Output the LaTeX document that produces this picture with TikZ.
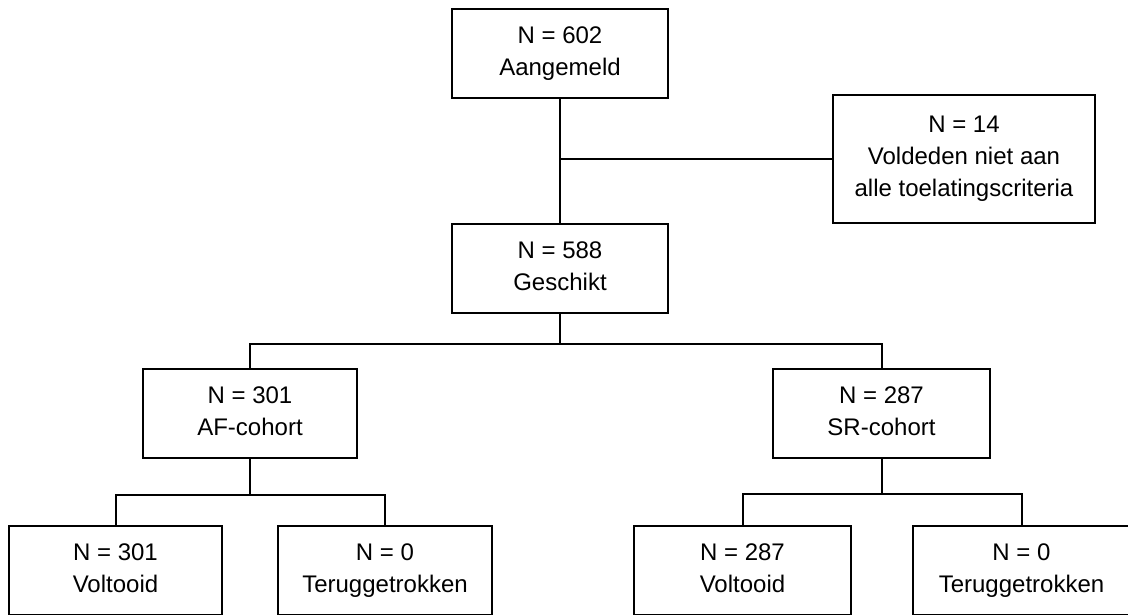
\documentclass[tikz,border=0pt]{standalone}
\usepackage{fontspec}
\setmainfont{Liberation Sans}
\newcommand\lnstrut{\rule[-6pt]{0pt}{23pt}}
\begin{document}
\begin{tikzpicture}[x=1pt,y=-1pt,
  box/.style={draw, line width=2pt, inner sep=0pt, align=center,
    minimum width=216pt, minimum height=89pt,
    font=\fontsize{24}{32}\selectfont},
  conn/.style={line width=2pt}]
\useasboundingbox (0,0) rectangle (1128,614);
\clip (0,0) rectangle (1128,614);
% nodes
\node[box] (a) at (560,53.5) {\lnstrut N = 602\\\lnstrut Aangemeld};
\node[box, minimum width=262pt, minimum height=128pt] (r) at (964,159) {\lnstrut N = 14\\\lnstrut Voldeden niet aan\\\lnstrut alle toelatingscriteria};
\node[box] (b) at (560,268.5) {\lnstrut N = 588\\\lnstrut Geschikt};
\node[box, minimum width=214pt] (af) at (250,413.5) {\lnstrut N = 301\\\lnstrut AF-cohort};
\node[box, minimum width=217pt] (sr) at (881.5,413.5) {\lnstrut N = 287\\\lnstrut SR-cohort};
\node[box, minimum width=213pt] (c1) at (115.5,570.5) {\lnstrut N = 301\\\lnstrut Voltooid};
\node[box, minimum width=214pt] (c2) at (385,570.5) {\lnstrut N = 0\\\lnstrut Teruggetrokken};
\node[box, minimum width=217pt] (c3) at (742.5,570.5) {\lnstrut N = 287\\\lnstrut Voltooid};
\node[box, minimum width=217pt] (c4) at (1021.5,570.5) {\lnstrut N = 0\\\lnstrut Teruggetrokken};
% junctions
\coordinate (j2) at (560,344);
\coordinate (j3) at (250,495);
\coordinate (j4) at (881.5,494);
% connectors
\draw[conn] (a) -- (b);
\draw[conn] (a.south |- r.west) -- (r.west);
\draw[conn] (b) -- (j2);
\draw[conn] (af.north) -- (af.north |- j2) -- (sr.north |- j2) -- (sr.north);
\draw[conn] (af) -- (j3);
\draw[conn] (c1.north) -- (c1.north |- j3) -- (c2.north |- j3) -- (c2.north);
\draw[conn] (sr) -- (j4);
\draw[conn] (c3.north) -- (c3.north |- j4) -- (c4.north |- j4) -- (c4.north);
\end{tikzpicture}
\end{document}
